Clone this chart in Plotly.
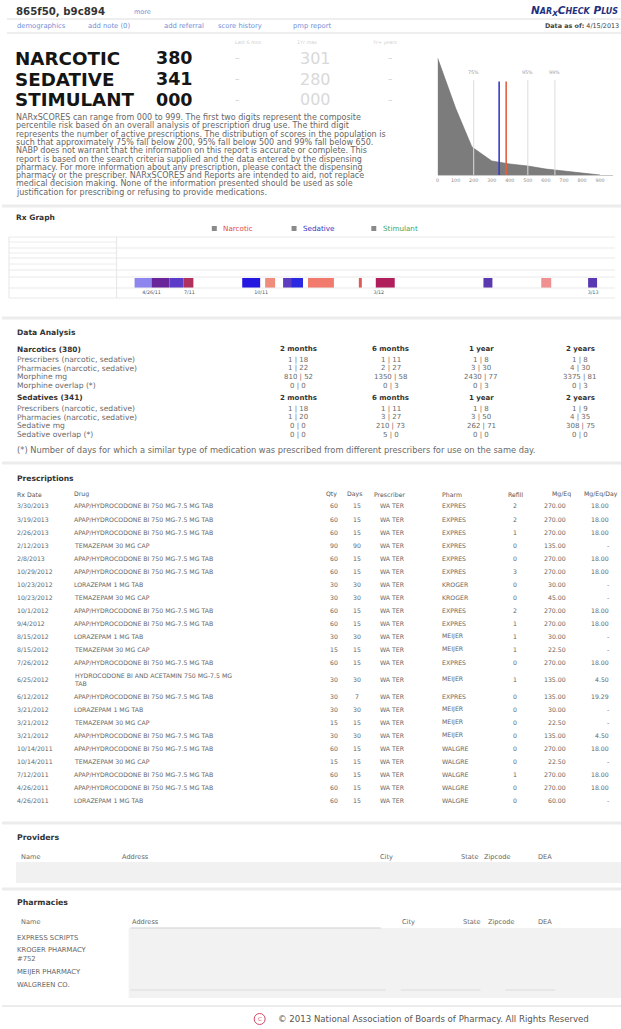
import plotly.graph_objects as go

W, H = 621, 1029

# ------------------------------------------------------------------ data
patient_id = "865f50, b9c894"
report_date = "4/15/2013"
nav_links = ["demographics", "add note (0)", "add referral", "score history", "pmp report"]
score_types = ["NARCOTIC", "SEDATIVE", "STIMULANT"]
score_values = ["380", "341", "000"]
score_prev = ["301", "280", "000"]
score_hdrs = ["Last 6 mos", "1Yr max", "Yr+ years"]

paragraph = [
    "NARxSCORES can range from 000 to 999. The first two digits represent the composite",
    "percentile risk based on an overall analysis of prescription drug use. The third digit",
    "represents the number of active prescriptions. The distribution of scores in the population is",
    "such that approximately 75% fall below 200, 95% fall below 500 and 99% fall below 650.",
    "NABP does not warrant that the information on this report is accurate or complete. This",
    "report is based on the search criteria supplied and the data entered by the dispensing",
    "pharmacy. For more information about any prescription, please contact the dispensing",
    "pharmacy or the prescriber. NARxSCORES and Reports are intended to aid, not replace",
    "medical decision making. None of the information presented should be used as sole",
    "justification for prescribing or refusing to provide medications.",
]

hist_scores = [0, 100, 190, 300, 400, 500, 600, 700, 800, 900]
hist_share = [100, 57, 24, 12, 9.4, 7.7, 5.1, 3.4, 1.7, 0]
hist_ticks = [0, 100, 200, 300, 400, 500, 600, 700, 800, 900]
pct_values = [200, 500, 650]
pct_labels = ["75%", "95%", "99%"]
narc_score = 380
sed_score = 341

# Rx graph (weeks on the report timeline)
rx_start_wk = [2.6, 6.0, 9.6, 12.4, 24.2, 28.8, 32.4, 34.0, 37.4, 47.6, 51.0, 72.6, 84.2, 93.6]
rx_len_wk = [3.4, 3.6, 2.8, 2.0, 3.6, 2.0, 1.6, 2.4, 5.2, 0.6, 3.8, 1.8, 2.0, 1.8]
rx_colors = ["#8c86ee", "#6a249a", "#5a3cc8", "#b0305e", "#2418e0", "#f08c7c", "#5c3cc0",
             "#2a28e0", "#f27a6c", "#e05a5a", "#b01e5c", "#5a38b0", "#f09090", "#5a38b4"]
rx_tick_wk = [6.0, 13.6, 28.0, 51.6, 94.6]
rx_tick_lbl = ["4/26/11", "7/11", "10/11", "3/12", "3/13"]
legend_names = ["Narcotic", "Sedative", "Stimulant"]
legend_colors = ["#e04848", "#3434c0", "#3aa86a"]

da_periods = ["2 months", "6 months", "1 year", "2 years"]
narc_rows = ["Prescribers (narcotic, sedative)", "Pharmacies (narcotic, sedative)",
             "Morphine mg", "Morphine overlap (*)"]
narc_vals = [["1 | 18", "1 | 11", "1 | 8", "1 | 8"],
             ["1 | 22", "2 | 27", "3 | 30", "4 | 30"],
             ["810 | 52", "1350 | 58", "2430 | 77", "3375 | 81"],
             ["0 | 0", "0 | 3", "0 | 3", "0 | 3"]]
sed_rows = ["Prescribers (narcotic, sedative)", "Pharmacies (narcotic, sedative)",
            "Sedative mg", "Sedative overlap (*)"]
sed_vals = [["1 | 18", "1 | 11", "1 | 8", "1 | 9"],
            ["1 | 20", "3 | 27", "3 | 50", "4 | 35"],
            ["0 | 0", "210 | 73", "262 | 71", "308 | 75"],
            ["0 | 0", "5 | 0", "0 | 0", "0 | 0"]]
footnote = ("(*) Number of days for which a similar type of medication was prescribed "
            "from different prescribers for use on the same day.")

APAP = "APAP/HYDROCODONE BI 750 MG-7.5 MG TAB"
rx_cols = ["Rx Date", "Drug", "Qty", "Days", "Prescriber", "Pharm", "Refill", "Mg/Eq", "Mg/Eq/Day"]
rx_date = ["3/30/2013", "3/19/2013", "2/26/2013", "2/12/2013", "2/8/2013", "10/29/2012",
           "10/23/2012", "10/23/2012", "10/1/2012", "9/4/2012", "8/15/2012", "8/15/2012",
           "7/26/2012", "6/25/2012", "6/12/2012", "3/21/2012", "3/21/2012", "3/21/2012",
           "10/14/2011", "10/14/2011", "7/12/2011", "4/26/2011", "4/26/2011"]
rx_drug = [APAP, APAP, APAP, "TEMAZEPAM 30 MG CAP", APAP, APAP, "LORAZEPAM 1 MG TAB",
           "TEMAZEPAM 30 MG CAP", APAP, APAP, "LORAZEPAM 1 MG TAB", "TEMAZEPAM 30 MG CAP",
           APAP, "HYDROCODONE BI AND ACETAMIN 750 MG-7.5 MG<br>TAB", APAP,
           "LORAZEPAM 1 MG TAB", "TEMAZEPAM 30 MG CAP", APAP, APAP, "TEMAZEPAM 30 MG CAP",
           APAP, APAP, "LORAZEPAM 1 MG TAB"]
rx_qty = ["60", "60", "60", "90", "60", "60", "30", "30", "60", "60", "30", "15", "60", "30",
          "30", "30", "15", "30", "60", "15", "60", "60", "60"]
rx_days = ["15", "15", "15", "90", "15", "15", "30", "30", "15", "15", "30", "15", "15", "30",
           "7", "30", "15", "30", "15", "15", "15", "15", "15"]
rx_presc = ["WA TER"] * 23
rx_pharm = ["EXPRES"] * 6 + ["KROGER"] * 2 + ["EXPRES"] * 2 + ["MEIJER"] * 2 + ["EXPRES", "MEIJER",
           "EXPRES", "MEIJER", "MEIJER", "MEIJER"] + ["WALGRE"] * 5
rx_refill = ["2", "2", "1", "0", "0", "3", "0", "0", "2", "1", "1", "1", "0", "1", "0", "0",
             "0", "0", "0", "0", "1", "0", "0"]
rx_mg = ["270.00", "270.00", "270.00", "135.00", "270.00", "270.00", "30.00", "45.00", "270.00",
         "270.00", "30.00", "22.50", "270.00", "135.00", "135.00", "30.00", "22.50", "135.00",
         "270.00", "22.50", "270.00", "270.00", "60.00"]
rx_mgday = ["18.00", "18.00", "18.00", "-", "18.00", "18.00", "-", "-", "18.00", "18.00", "-",
            "-", "18.00", "4.50", "19.29", "-", "-", "4.50", "18.00", "-", "18.00", "18.00", "-"]

table_hdrs = ["Name", "Address", "City", "State", "Zipcode", "DEA"]
pharmacy_names = ["EXPRESS SCRIPTS", "KROGER PHARMACY<br>#752", "MEIJER PHARMACY", "WALGREEN CO."]
copyright_txt = "\u00a9 2013 National Association of Boards of Pharmacy. All Rights Reserved"

# ------------------------------------------------------------------ helpers
FONT = "DejaVu Sans"
ann, shapes = [], []


def T(x, y, s, size=6.4, color="#666", bold=False, anchor="left", family=FONT):
    if bold:
        s = "<b>" + s + "</b>"
    ann.append(dict(x=x / W, y=1 - y / H, xref="paper", yref="paper", text=s, showarrow=False,
                    xanchor=anchor, yanchor="middle", borderpad=0, align=anchor,
                    font=dict(size=size, color=color, family=family)))


def hline(y, x0, x1, color="#e6e6e6", w=1):
    shapes.append(dict(type="line", xref="paper", yref="paper", x0=x0 / W, x1=x1 / W,
                       y0=1 - y / H, y1=1 - y / H, line=dict(color=color, width=w)))


def vline(x, y0, y1, color="#e6e6e6", w=1):
    shapes.append(dict(type="line", xref="paper", yref="paper", x0=x / W, x1=x / W,
                       y0=1 - y0 / H, y1=1 - y1 / H, line=dict(color=color, width=w)))


def rect(x0, y0, x1, y1, fill, line=None):
    shapes.append(dict(type="rect", xref="paper", yref="paper", x0=x0 / W, x1=x1 / W,
                       y0=1 - y1 / H, y1=1 - y0 / H, fillcolor=fill, layer="below",
                       line=dict(width=0 if line is None else 1, color=line or fill)))


# ------------------------------------------------------------------ header
T(13, 12, patient_id, size=10.2, color="#333", bold=True)
T(131, 12, "more", size=6.5, color="#6f8fd8")
T(619, 11, "<i><b>N<span style='font-size:8px'>AR</span><sub>X</sub>C"
           "<span style='font-size:8px'>HECK</span> P<span style='font-size:8px'>LUS</span></b></i>",
  size=10.5, color="#23307e", anchor="right")
hline(19, 5, 621, "#dddddd", 1)
for x, s in zip([14, 85, 162, 216, 291], nav_links):
    T(x, 26, s, size=6.8, color="#6f8fd8")
T(620, 26, "<b>Data as of:</b> " + report_date, size=6.4, color="#444", anchor="right")
hline(33, 5, 621, "#dddddd", 1)

for x, s in zip([247, 306, 384], score_hdrs):
    T(x, 43, s, size=4.8, color="#cfcfcf", anchor="center")
for i, (lab, val, prev) in enumerate(zip(score_types, score_values, score_prev)):
    y = 58 + 21 * i
    T(12, y, lab, size=18.3, color="#151515", bold=True)
    T(153, y, val, size=17.5, color="#151515", bold=True)
    T(236, y, "\u2013", size=9, color="#cccccc", anchor="center")
    T(315, y, prev, size=16, color="#d9d9d9", anchor="center")
    T(390, y, "\u2013", size=9, color="#cccccc", anchor="center")

for i, line in enumerate(paragraph):
    T(13, 117.5 + 8.3 * i, line, size=8.0, color="#666666")

# ------------------------------------------------------------------ histogram
traces = []
traces.append(go.Scatter(x=hist_scores, y=hist_share, mode="lines", fill="tozeroy",
                         fillcolor="#7c7c7c", line=dict(color="#6a6a6a", width=0.6),
                         xaxis="x", yaxis="y", hoverinfo="skip"))
for v, lab in zip(pct_values, pct_labels):
    traces.append(go.Scatter(x=[v, v], y=[0, 81], mode="lines", line=dict(color="#dcdcdc", width=1),
                             xaxis="x", yaxis="y", hoverinfo="skip"))
    ann.append(dict(x=v, y=84, xref="x", yref="y", text=lab, showarrow=False, yanchor="bottom",
                    font=dict(size=4.8, color="#999", family=FONT)))
traces.append(go.Scatter(x=[sed_score, sed_score], y=[0, 80], mode="lines",
                         line=dict(color="#3a3acc", width=1.6), xaxis="x", yaxis="y"))
traces.append(go.Scatter(x=[narc_score, narc_score], y=[0, 80], mode="lines",
                         line=dict(color="#e06040", width=1.6), xaxis="x", yaxis="y"))

# ------------------------------------------------------------------ Rx graph
hline(206, 0, 621, "#ececec", 3)
T(13, 217, "Rx Graph", size=7.5, color="#333", bold=True)
for x, name, col in zip([213, 293, 373], legend_names, legend_colors):
    rect(x - 2.5, 226, x + 2.5, 231, "#8a8a8a")
    T(x + 8, 228, name, size=7.2, color=col)
for y in [237, 248, 258, 270, 277, 288, 298]:
    hline(y, 7, 615, "#e9e9e9", 1)
for y in [242, 253, 264]:
    hline(y, 7, 115, "#ececec", 1)
vline(7, 237, 298, "#e6e6e6")
vline(115, 237, 298, "#e6e6e6")

traces.append(go.Bar(x=rx_len_wk, base=rx_start_wk, y=[0] * len(rx_len_wk), orientation="h",
                     width=1, marker=dict(color=rx_colors, line=dict(width=0)),
                     xaxis="x2", yaxis="y2", hoverinfo="skip"))

# ------------------------------------------------------------------ Data analysis
hline(318, 0, 621, "#ececec", 3)
T(14, 332, "Data Analysis", size=7.6, color="#333", bold=True)
col_x = [297, 390, 481, 580]


def block(y0, title, rows, vals):
    T(14, y0, title, size=7.4, color="#333", bold=True)
    for cx, p in zip(col_x, da_periods):
        T(cx, y0, p, size=7.0, color="#333", bold=True, anchor="center")
    for r, (lab, vv) in enumerate(zip(rows, vals)):
        y = y0 + 10.5 + 8.7 * r
        T(14, y, lab, size=7.6, color="#6a6a6a")
        for cx, v in zip(col_x, vv):
            T(cx, y, v, size=7.0, color="#6a6a6a", anchor="center")


block(349, "Narcotics (380)", narc_rows, narc_vals)
block(398, "Sedatives (341)", sed_rows, sed_vals)
T(14, 450, footnote, size=8.3, color="#6a6a6a")

# ------------------------------------------------------------------ Prescriptions
hline(463, 0, 621, "#ececec", 3)
T(14, 478, "Prescriptions", size=7.6, color="#333", bold=True)
hdr_pos = [(14, "left"), (71, "left"), (331, "center"), (354, "center"), (372, "left"),
           (440, "left"), (515, "center"), (561, "center"), (601, "center")]
for (x, a), s in zip(hdr_pos, rx_cols):
    T(x, 494, s, size=6.2, color="#555", anchor=a)
y = 506
for i in range(len(rx_date)):
    two = "<br>" in rx_drug[i]
    yy = y + (4 if two else 0)
    T(14, yy, rx_date[i], size=6.2)
    T(71, yy, rx_drug[i], size=6.2)
    T(333, yy, rx_qty[i], size=6.2, anchor="center")
    T(356, yy, rx_days[i], size=6.2, anchor="center")
    T(378, yy, rx_presc[i], size=6.2)
    T(440, yy, rx_pharm[i], size=6.2)
    T(515, yy, rx_refill[i], size=6.2, anchor="center")
    T(567, yy, rx_mg[i], size=6.2, anchor="right")
    T(610, yy, rx_mgday[i], size=6.2, anchor="right")
    y += 13.0 + (8 if two else 0)

# ------------------------------------------------------------------ Providers
hline(823, 0, 621, "#ececec", 3)
T(14, 837, "Providers", size=7.8, color="#333", bold=True)
for x, s in zip([18, 119, 378, 459, 483, 537], table_hdrs):
    T(x, 857, s, size=6.6)
rect(14, 862, 621, 883, "#f1f1f1")

hline(889, 0, 621, "#ececec", 3)
T(14, 902, "Pharmacies", size=7.8, color="#333", bold=True)
for x, s in zip([18, 129, 400, 461, 487, 537], table_hdrs):
    T(x, 922, s, size=6.6)
rect(127, 928, 621, 998, "#f2f2f2")
hline(928, 129, 380, "#d0d0d0", 1)
hline(990, 129, 385, "#dddddd", 1)
hline(990, 400, 480, "#dddddd", 1)
hline(990, 505, 555, "#dddddd", 1)
for yy, s in zip([938, 954, 972, 985], pharmacy_names):
    T(14, yy, s, size=6.8, color="#666")

hline(1006, 0, 621, "#ececec", 2)
shapes.append(dict(type="circle", xref="paper", yref="paper", x0=253 / W, x1=264 / W,
                   y0=1 - 1024.5 / H, y1=1 - 1013.5 / H, line=dict(color="#d04a6a", width=1)))
T(258.5, 1019, "C", size=5.5, color="#d04a6a", anchor="center")
T(276, 1019, copyright_txt, size=8.6, color="#555")

# ------------------------------------------------------------------ figure
fig = go.Figure(traces)
fig.update_layout(
    width=W, height=H, autosize=False, margin=dict(l=0, r=0, t=0, b=0),
    paper_bgcolor="white", plot_bgcolor="rgba(0,0,0,0)", showlegend=False,
    font=dict(family=FONT),
    annotations=ann, shapes=shapes,
    xaxis=dict(domain=[437 / W, 613 / W], range=[0, 972], tickvals=hist_ticks,
               ticktext=[str(t) for t in hist_ticks], tickfont=dict(size=4.8, color="#888"),
               showgrid=False, zeroline=False, showline=True, linecolor="#c8c8c8",
               ticks="", anchor="y", fixedrange=True),
    yaxis=dict(domain=[1 - 175 / H, 1 - 58 / H], range=[0, 100], visible=False,
               anchor="x", fixedrange=True),
    xaxis2=dict(domain=[120 / W, 615 / W], range=[0, 99], tickvals=rx_tick_wk,
                ticktext=rx_tick_lbl, tickfont=dict(size=4.8, color="#555"),
                showgrid=False, zeroline=False, showline=False, ticks="", anchor="y2",
                fixedrange=True),
    yaxis2=dict(domain=[1 - 288 / H, 1 - 278 / H], range=[-0.5, 0.5], visible=False,
                anchor="x2", fixedrange=True),
)
fig.write_html("out.html", config={"displayModeBar": False},
               post_script="document.body.style.margin='0';"
                           "document.documentElement.style.overflow='hidden';"
                           "document.body.style.overflow='hidden';")
